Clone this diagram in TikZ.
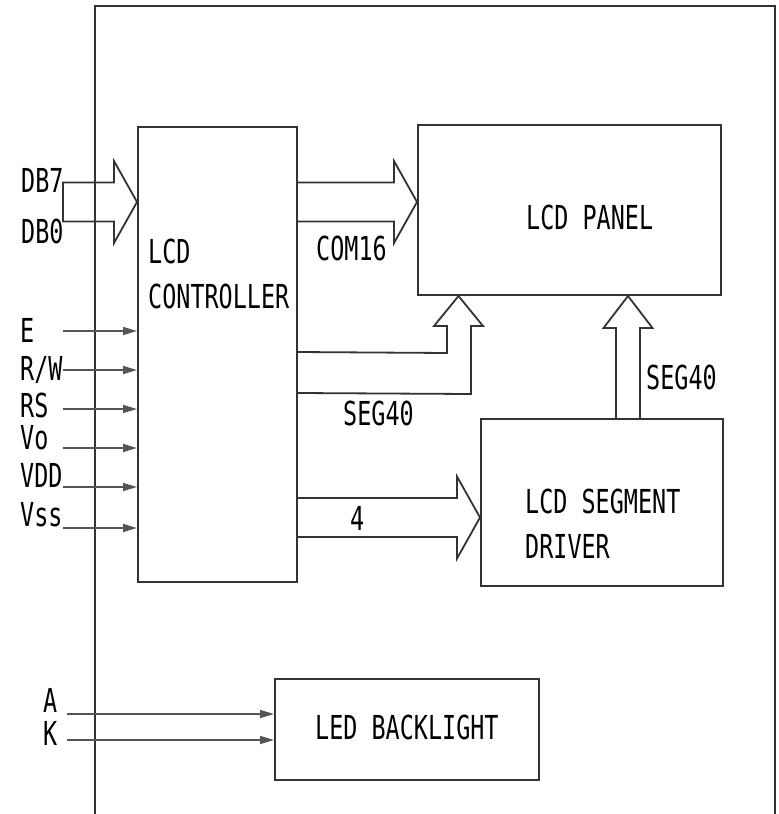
\documentclass[tikz,border=0pt]{standalone}
\usepackage{fontspec}
\setmainfont{DejaVu Sans Mono}[FakeStretch=0.71]
\usetikzlibrary{positioning,arrows.meta,calc}
\definecolor{LineGray}{HTML}{333333}
\definecolor{PinGray}{HTML}{555555}
\tikzset{
  blk/.style={draw=LineGray,line width=2bp,inner sep=0pt},
  lbl/.style={inner sep=0pt,anchor=base west,text=black},
  bus/.style={draw=LineGray,line width=1.8bp,line join=miter},
  pin/.style={draw=PinGray,line width=1.6bp,-{Triangle[length=14bp,width=8bp]}},
}
% wide bus arrow: start, tip, closing of the tail
\newcommand{\hbus}[3]{\draw[bus] ($#1+(0,-19.5)$) -- ($#2+(-23,-19.5)$) -- ($#2+(-23,-41)$) -- #2 -- ($#2+(-23,41)$) -- ($#2+(-23,19.5)$) -- ($#1+(0,19.5)$) #3;}

\begin{document}
\begin{tikzpicture}[x=1bp,y=-1bp,font=\fontsize{33bp}{45bp}\selectfont]
  \useasboundingbox (0,0) rectangle (779,814);
  % module outline, open at the bottom
  \draw[LineGray,line width=2bp] (95,814) -- (95,6) -- (775,6) -- (775,814);

  % blocks
  \node[blk,minimum width=159bp,minimum height=455bp] (ctrl) at (217.5,354.5) {};
  \node[blk,minimum width=303bp,minimum height=170bp] (panel) at (569.5,210) {};
  \node[blk,minimum width=242bp,minimum height=167bp] (segdrv) at (602,502.5) {};
  \node[blk,minimum width=264bp,minimum height=101bp] (led) at (407,729.5) {};
  \node[lbl] (ctrltxt) at (148,263) {LCD};
  \node[lbl] (ctrltxt2) at (148,308) {CONTROLLER};
  \node[lbl] (paneltxt) at (526,229) {LCD PANEL};
  \node[lbl] (segtxt) at (525,513) {LCD SEGMENT};
  \node[lbl] (segtxt2) at (525,558) {DRIVER};
  \node[lbl] (ledtxt) at (315,739) {LED BACKLIGHT};

  % data bus in
  \coordinate (db) at (63,202);
  \hbus{(db)}{(ctrl.west|-db)}{-- cycle}
  \node[lbl] (db7) at (21,192) {DB7};
  \node[lbl] (db0) at (21,243) {DB0};

  % control and supply pins
  \foreach \yy/\ly/\txt [count=\i] in {331/342/E, 370/380/{R/W}, 409/417/RS, 448/449/Vo, 487/487/VDD, 528/526/Vss} {
    \coordinate (pin\i) at (63,\yy);
    \draw[pin] (pin\i) -- (pin\i -| ctrl.west);
    \node[lbl] (pinlbl\i) at (20,\ly) {\txt};
  }

  % common lines
  \coordinate (com) at (0,202);
  \hbus{(ctrl.east|-com)}{(panel.west|-com)}{}
  \node[lbl] (comlbl) at (316,260) {COM16};

  % segment lines from the controller
  \coordinate (segl) at (458.5,0);
  \coordinate (segtip) at (panel.south-|segl);
  \draw[bus] (ctrl.east|-0,352) -- ($(segtip)+(-11.5,57)$) -- ($(segtip)+(-11.5,30)$) -- ($(segtip)+(-24.5,30)$) -- (segtip)
    -- ($(segtip)+(24.5,30)$) -- ($(segtip)+(12.5,30)$) -- ($(segtip)+(12.5,98)$) -- (ctrl.east|-0,393);
  \node[lbl] (seglbl) at (343,425) {SEG40};

  % interface to the segment driver
  \coordinate (four) at (0,517.5);
  \hbus{(ctrl.east|-four)}{(segdrv.west|-four)}{}
  \node[lbl] (fourlbl) at (350,530) {4};

  % segment lines from the driver
  \coordinate (segr) at (628,0);
  \coordinate (segrtip) at (panel.south-|segr);
  \draw[bus] ($(segdrv.north-|segr)+(-12,0)$) -- ($(segrtip)+(-12,32)$) -- ($(segrtip)+(-24.5,32)$) -- (segrtip)
    -- ($(segrtip)+(24.5,32)$) -- ($(segrtip)+(12,32)$) -- ($(segdrv.north-|segr)+(12,0)$);
  \node[lbl] (segrlbl) at (646,389) {SEG40};

  % backlight
  \coordinate (pa) at (67,714);
  \coordinate (pk) at (67,740);
  \draw[pin] (pa) -- (pa -| led.west);
  \draw[pin] (pk) -- (pk -| led.west);
  \node[lbl] (albl) at (43,712) {A};
  \node[lbl] (klbl) at (43,745) {K};
\end{tikzpicture}
\end{document}
